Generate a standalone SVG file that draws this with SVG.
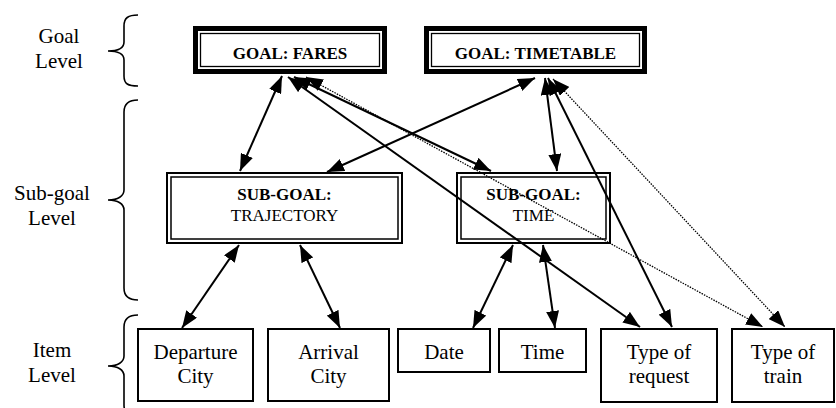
<svg xmlns="http://www.w3.org/2000/svg" width="836" height="408" viewBox="0 0 836 408">
<style>
text{font-family:"Liberation Serif","Times New Roman",serif;fill:#000;text-anchor:middle}
.lbl{font-size:21px}
.g{font-size:17px;font-weight:bold}
.s{font-size:17px}
.it{font-size:21px}
.brace{fill:none;stroke:#000;stroke-width:1.6}
.box{fill:#fff;stroke:#000;stroke-width:2}
.c{fill:none;stroke:#000;stroke-width:2;marker-start:url(#a);marker-end:url(#a)}
.d{fill:none;stroke:#000;stroke-width:1.3;stroke-dasharray:1.5 1.2;marker-start:url(#a);marker-end:url(#a)}
</style>
<defs>
<marker id="a" viewBox="0 0 17 13" markerWidth="17" markerHeight="13" refX="17" refY="6.5" orient="auto-start-reverse" markerUnits="userSpaceOnUse">
<path d="M0,0 L17,6.5 L0,13 z" fill="#000"/>
</marker>
</defs>
<rect width="836" height="408" fill="#fff"/>

<g id="levels">
<text class="lbl" x="59" y="43">Goal</text>
<text class="lbl" x="59" y="68">Level</text>
<path class="brace" d="M138,15 C128,15 124,18 124,26 L124,42 C124,48 118,51 108,51 C118,51 124,54 124,60 L124,76 C124,84 128,86 138,86"/>
<text class="lbl" x="52" y="200">Sub-goal</text>
<text class="lbl" x="52" y="225">Level</text>
<path class="brace" d="M138,100 C128,100 124,104 124,112 L124,190 C124,196 118,200 108,200 C118,200 124,204 124,210 L124,288 C124,296 128,300 138,300"/>
<text class="lbl" x="52" y="357">Item</text>
<text class="lbl" x="52" y="382">Level</text>
<path class="brace" d="M138,315 C128,315 124,319 124,327 L124,356 C124,362 118,366 108,366 C118,366 124,370 124,376 L124,405 C124,413 128,417 138,417"/>
</g>

<g id="goal-fares">
<rect x="195.5" y="28.5" width="189" height="43" fill="#fff" stroke="#000" stroke-width="5"/>
<rect x="200.5" y="33.5" width="179" height="33" fill="none" stroke="#000" stroke-width="1.3"/>
<text class="g" x="290" y="59">GOAL: FARES</text>
</g>
<g id="goal-timetable">
<rect x="426.5" y="28.5" width="218" height="43" fill="#fff" stroke="#000" stroke-width="5"/>
<rect x="431.5" y="33.5" width="208" height="33" fill="none" stroke="#000" stroke-width="1.3"/>
<text class="g" x="535.5" y="59">GOAL: TIMETABLE</text>
</g>

<g id="sub-trajectory">
<rect x="167" y="173" width="235" height="70" fill="#fff" stroke="#000" stroke-width="2"/>
<rect x="171" y="177" width="227" height="62" fill="none" stroke="#000" stroke-width="1.5"/>
<text class="g" x="284.5" y="200">SUB-GOAL:</text>
<text class="s" x="284.5" y="221">TRAJECTORY</text>
</g>
<g id="sub-time">
<rect x="457" y="173" width="153" height="70" fill="#fff" stroke="#000" stroke-width="2"/>
<rect x="461" y="177" width="145" height="62" fill="none" stroke="#000" stroke-width="1.5"/>
<text class="g" x="533.5" y="200">SUB-GOAL:</text>
<text class="s" x="533.5" y="221">TIME</text>
</g>

<g id="item-departure">
<rect class="box" x="138" y="329" width="115" height="72"/>
<text class="it" x="195.5" y="359">Departure</text>
<text class="it" x="195.5" y="383">City</text>
</g>
<g id="item-arrival">
<rect class="box" x="268" y="329" width="121" height="72"/>
<text class="it" x="328.5" y="359">Arrival</text>
<text class="it" x="328.5" y="383">City</text>
</g>
<g id="item-date">
<rect class="box" x="398" y="329" width="92" height="43"/>
<text class="it" x="444" y="359">Date</text>
</g>
<g id="item-time">
<rect class="box" x="499" y="329" width="87" height="43"/>
<text class="it" x="542.5" y="359">Time</text>
</g>
<g id="item-request">
<rect class="box" x="601" y="329" width="116" height="73"/>
<text class="it" x="659" y="359">Type of</text>
<text class="it" x="659" y="383">request</text>
</g>
<g id="item-train">
<rect class="box" x="732" y="329" width="102" height="73"/>
<text class="it" x="783" y="359">Type of</text>
<text class="it" x="783" y="383">train</text>
</g>

<g id="connectors">
<path class="c" d="M282,76 L240,171"/>
<path class="c" d="M535,78 L327,172"/>
<path class="c" d="M294,77 L491,171"/>
<path class="c" d="M288,77 L640,327"/>
<path class="d" d="M306,77 L763,327"/>
<path class="c" d="M545,78 L557,171"/>
<path class="c" d="M548,78 L672,327"/>
<path class="d" d="M553,79 L785,327"/>
<path class="c" d="M239,245 L182,328"/>
<path class="c" d="M300,245 L340,328"/>
<path class="c" d="M513,245 L473,328"/>
<path class="c" d="M543,245 L555,328"/>
</g>
</svg>
